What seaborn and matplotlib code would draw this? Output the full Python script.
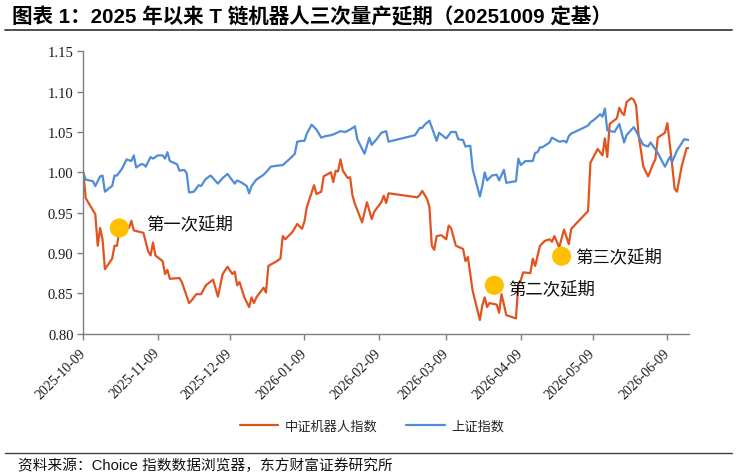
import matplotlib
matplotlib.use("Agg")
import matplotlib.pyplot as plt
from matplotlib.lines import Line2D
import seaborn as sns
import pandas as pd

# ---------------- data ----------------
robot_dates = [
    "2025-10-09","2025-10-10","2025-10-14","2025-10-15","2025-10-16","2025-10-17","2025-10-18",
    "2025-10-21","2025-10-22","2025-10-23","2025-10-24","2025-10-26","2025-10-28","2025-10-29",
    "2025-10-30","2025-11-03","2025-11-05","2025-11-06","2025-11-07","2025-11-08","2025-11-11",
    "2025-11-12","2025-11-13","2025-11-14","2025-11-18","2025-11-19","2025-11-22","2025-11-23",
    "2025-11-25","2025-11-27","2025-11-29","2025-12-02","2025-12-04","2025-12-06","2025-12-08",
    "2025-12-10","2025-12-11","2025-12-12","2025-12-13","2025-12-15","2025-12-17","2025-12-18",
    "2025-12-19","2025-12-20","2025-12-23","2025-12-24","2025-12-25","2025-12-28","2025-12-30",
    "2025-12-31","2026-01-01","2026-01-04","2026-01-06","2026-01-08","2026-01-09","2026-01-10",
    "2026-01-13","2026-01-14","2026-01-16","2026-01-17","2026-01-20","2026-01-21","2026-01-22",
    "2026-01-23","2026-01-24","2026-01-25","2026-01-27","2026-01-28","2026-01-29","2026-01-30",
    "2026-02-02","2026-02-04","2026-02-06","2026-02-07","2026-02-10","2026-02-11","2026-02-12",
    "2026-02-13","2026-02-25","2026-02-26","2026-02-27","2026-03-01","2026-03-02","2026-03-03",
    "2026-03-04","2026-03-05","2026-03-07","2026-03-09","2026-03-10","2026-03-11","2026-03-13",
    "2026-03-16","2026-03-17","2026-03-18","2026-03-20","2026-03-23","2026-03-24","2026-03-25",
    "2026-03-26","2026-03-27","2026-03-30","2026-03-31","2026-04-01","2026-04-03","2026-04-07",
    "2026-04-08","2026-04-09","2026-04-10","2026-04-13","2026-04-14","2026-04-15","2026-04-17",
    "2026-04-19","2026-04-21","2026-04-22","2026-04-23","2026-04-25","2026-04-27","2026-04-29",
    "2026-04-30","2026-05-07","2026-05-08","2026-05-11","2026-05-13","2026-05-14","2026-05-15",
    "2026-05-16","2026-05-19","2026-05-20","2026-05-21","2026-05-22","2026-05-23","2026-05-25",
    "2026-05-26","2026-05-27","2026-05-28","2026-05-30","2026-06-01","2026-06-03","2026-06-04",
    "2026-06-05","2026-06-08","2026-06-09","2026-06-11","2026-06-12","2026-06-13","2026-06-15",
    "2026-06-17","2026-06-18",
]
robot_values = [
    1.000,0.968,0.948,0.909,0.931,0.917,0.880,
    0.893,0.909,0.909,0.928,0.934,0.931,0.940,
    0.928,0.925,0.902,0.897,0.913,0.897,0.890,
    0.874,0.879,0.868,0.869,0.864,0.838,0.841,
    0.849,0.849,0.860,0.867,0.846,0.874,0.883,
    0.874,0.877,0.860,0.864,0.845,0.833,0.845,
    0.838,0.845,0.857,0.851,0.884,0.889,0.893,
    0.921,0.917,0.926,0.936,0.930,0.939,0.957,
    0.984,0.973,0.976,0.995,1.000,0.988,1.002,
    1.001,1.016,1.002,0.993,0.994,0.971,0.961,
    0.938,0.963,0.942,0.951,0.963,0.971,0.962,
    0.974,0.969,0.972,0.977,0.967,0.957,0.909,
    0.904,0.921,0.922,0.917,0.934,0.931,0.909,
    0.905,0.890,0.895,0.853,0.817,0.835,0.845,
    0.833,0.838,0.836,0.826,0.849,0.823,0.819,
    0.862,0.866,0.876,0.875,0.893,0.884,0.909,
    0.915,0.917,0.914,0.921,0.907,0.929,0.911,
    0.930,0.952,1.012,1.029,1.021,1.042,1.019,
    1.060,1.067,1.080,1.074,1.071,1.087,1.092,
    1.090,1.083,1.047,1.007,0.995,1.010,1.016,
    1.043,1.049,1.061,1.009,0.980,0.976,1.008,
    1.030,1.030,
]

sh_dates = [
    "2025-10-09","2025-10-10","2025-10-13","2025-10-14","2025-10-16","2025-10-17","2025-10-18",
    "2025-10-20","2025-10-21","2025-10-22","2025-10-23","2025-10-25","2025-10-27","2025-10-29",
    "2025-10-30","2025-10-31","2025-11-02","2025-11-03","2025-11-04","2025-11-06","2025-11-07",
    "2025-11-09","2025-11-11","2025-11-12","2025-11-13","2025-11-14","2025-11-17","2025-11-18",
    "2025-11-20","2025-11-21","2025-11-22","2025-11-24","2025-11-26","2025-11-27","2025-11-29",
    "2025-12-01","2025-12-04","2025-12-06","2025-12-08","2025-12-10","2025-12-11","2025-12-12",
    "2025-12-14","2025-12-16","2025-12-17","2025-12-18","2025-12-20","2025-12-23","2025-12-24",
    "2025-12-26","2025-12-28","2025-12-31","2026-01-03","2026-01-05","2026-01-06","2026-01-08",
    "2026-01-09","2026-01-10","2026-01-12","2026-01-14","2026-01-16","2026-01-18","2026-01-20",
    "2026-01-21","2026-01-24","2026-01-26","2026-01-28","2026-01-30","2026-01-31","2026-02-03",
    "2026-02-05","2026-02-06","2026-02-08","2026-02-10","2026-02-12","2026-02-13","2026-02-24",
    "2026-02-26","2026-02-27","2026-02-28","2026-03-02","2026-03-05","2026-03-06","2026-03-09",
    "2026-03-11","2026-03-13","2026-03-14","2026-03-16","2026-03-17","2026-03-19","2026-03-20",
    "2026-03-23","2026-03-24","2026-03-25","2026-03-26","2026-03-28","2026-03-30","2026-03-31",
    "2026-04-02","2026-04-03","2026-04-07","2026-04-08","2026-04-09","2026-04-11","2026-04-14",
    "2026-04-15","2026-04-16","2026-04-17","2026-04-18","2026-04-20","2026-04-21","2026-04-22",
    "2026-04-25","2026-04-27","2026-04-28","2026-04-29","2026-04-30","2026-05-05","2026-05-07",
    "2026-05-08","2026-05-09","2026-05-11","2026-05-12","2026-05-13","2026-05-14","2026-05-15",
    "2026-05-18","2026-05-20","2026-05-22","2026-05-23","2026-05-26","2026-05-27","2026-05-29",
    "2026-05-30","2026-06-01","2026-06-02","2026-06-05","2026-06-08","2026-06-10","2026-06-11",
    "2026-06-13","2026-06-16","2026-06-18",
]
sh_values = [
    1.000,0.991,0.989,0.983,0.995,0.996,0.976,
    0.981,0.983,0.996,0.996,1.004,1.016,1.014,
    1.021,1.006,1.010,1.010,1.007,1.019,1.017,
    1.021,1.021,1.017,1.025,1.014,1.010,1.002,
    1.003,0.999,0.975,0.976,0.984,0.983,0.992,
    0.996,0.986,0.993,0.998,0.990,0.986,0.990,
    0.987,0.983,0.974,0.983,0.991,0.997,1.000,
    1.007,1.008,1.009,1.017,1.023,1.038,1.039,
    1.039,1.048,1.059,1.053,1.043,1.045,1.046,
    1.047,1.051,1.050,1.053,1.057,1.041,1.023,
    1.043,1.034,1.041,1.049,1.051,1.038,1.046,
    1.055,1.055,1.059,1.064,1.039,1.049,1.042,
    1.050,1.050,1.041,1.040,1.032,1.033,1.004,
    0.970,0.983,1.000,0.990,0.996,0.997,0.990,
    1.003,0.987,0.989,1.017,1.009,1.014,1.014,
    1.024,1.025,1.031,1.031,1.035,1.037,1.043,
    1.038,1.039,1.037,1.045,1.048,1.055,1.058,
    1.062,1.064,1.069,1.072,1.069,1.079,1.052,
    1.050,1.060,1.037,1.046,1.056,1.051,1.039,
    1.034,1.032,1.037,1.024,1.007,1.019,1.013,
    1.027,1.041,1.040,
]

series_names = ["中证机器人指数", "上证指数"]
series_colors = ["#E2531F", "#4F8DD6"]

delay_dates = ["2025-10-24", "2026-03-29", "2026-04-26"]
delay_values = [0.931, 0.860, 0.896]
delay_labels = ["第一次延期", "第二次延期", "第三次延期"]

y_ticks = [0.80, 0.85, 0.90, 0.95, 1.00, 1.05, 1.10, 1.15]
x_tick_labels = ["2025-10-09", "2025-11-09", "2025-12-09", "2026-01-09", "2026-02-09",
                 "2026-03-09", "2026-04-09", "2026-05-09", "2026-06-09"]

title_text = "图表 1：2025 年以来 T 链机器人三次量产延期（20251009 定基）"
source_text = "资料来源：Choice 指数数据浏览器，东方财富证券研究所"

# ---------------- build frames ----------------
df = pd.concat([
    pd.DataFrame({"date": pd.to_datetime(robot_dates), "value": robot_values, "series": series_names[0]}),
    pd.DataFrame({"date": pd.to_datetime(sh_dates), "value": sh_values, "series": series_names[1]}),
], ignore_index=True)
marks = pd.DataFrame({"date": pd.to_datetime(delay_dates), "value": delay_values, "label": delay_labels})

# ---------------- style ----------------
sns.set_theme(style="white")
plt.rcParams["font.family"] = ["Noto Sans CJK SC", "DejaVu Sans"]
plt.rcParams["axes.unicode_minus"] = False

W, H = 737, 477
fig = plt.figure(figsize=(W / 100, H / 100), dpi=100)
ax = fig.add_axes([83.3 / W, 1 - 334.7 / H, (689 - 83.3) / W, (334.7 - 52.3) / H])

sns.lineplot(data=df, x="date", y="value", hue="series", hue_order=series_names,
             palette=series_colors, estimator=None, sort=False, linewidth=1.6, ax=ax)

sns.scatterplot(data=marks, x="date", y="value", color="#FFC000", s=190,
                edgecolor="none", zorder=5, ax=ax, legend=False)

offsets = [(27, 5), (14, -3), (14, 0)]
for (_, r), off in zip(marks.iterrows(), offsets):
    ax.annotate(r["label"], xy=(r["date"], r["value"]), xytext=off,
                textcoords="offset pixels", ha="left", va="center",
                fontsize=12.5, family=["Noto Sans CJK SC"], color="#111111")

# axes
ax.set_xlim(pd.Timestamp(robot_dates[0]), pd.Timestamp(robot_dates[-1]))
ax.set_ylim(y_ticks[0], y_ticks[-1])
ax.set_yticks(y_ticks)
ax.set_yticklabels([f"{t:.2f}" for t in y_ticks], family=["Liberation Serif"], fontsize=10.5, color="#1a1a1a")
ax.set_xticks(pd.to_datetime(x_tick_labels))
ax.set_xticklabels(x_tick_labels, rotation=45, ha="right", va="center",
                   rotation_mode="anchor", family=["Liberation Serif"], fontsize=10, color="#1a1a1a")
ax.set_xlabel("")
ax.set_ylabel("")
for s in ["top", "right"]:
    ax.spines[s].set_visible(False)
for s in ["left", "bottom"]:
    ax.spines[s].set_color("#7f7f7f")
    ax.spines[s].set_linewidth(1.0)
ax.tick_params(axis="both", which="major", direction="out", length=4, width=1,
               color="#7f7f7f", bottom=True, left=True)
ax.tick_params(axis="y", pad=3)
ax.tick_params(axis="x", pad=8)
ax.grid(False)

# legend
handles, labels = ax.get_legend_handles_labels()
if ax.legend_ is not None:
    ax.legend_.remove()
fig.legend(handles[:2], labels[:2], loc="center", bbox_to_anchor=(372 / W, 1 - 427 / H),
           ncol=2, frameon=False, handlelength=2.9, columnspacing=2.2, handletextpad=0.5,
           prop={"family": ["Noto Sans CJK SC"], "size": 9.5})

# title, rules, source
fig.text(12 / W, 1 - 17 / H, title_text, fontsize=14.8, fontweight="bold",
         family=["Liberation Sans", "Noto Sans CJK SC"], va="center", ha="left", color="#000000")
fig.add_artist(Line2D([5 / W, 732 / W], [1 - 31 / H, 1 - 31 / H], color="#404040", lw=1.3))
fig.add_artist(Line2D([5 / W, 732 / W], [1 - 454 / H, 1 - 454 / H], color="#404040", lw=1.0))
fig.text(18 / W, 1 - 466 / H, source_text, fontsize=10.6, family=["Liberation Sans", "Noto Sans CJK SC"],
         va="center", ha="left", color="#111111")

fig.savefig("out.png", dpi=100)
